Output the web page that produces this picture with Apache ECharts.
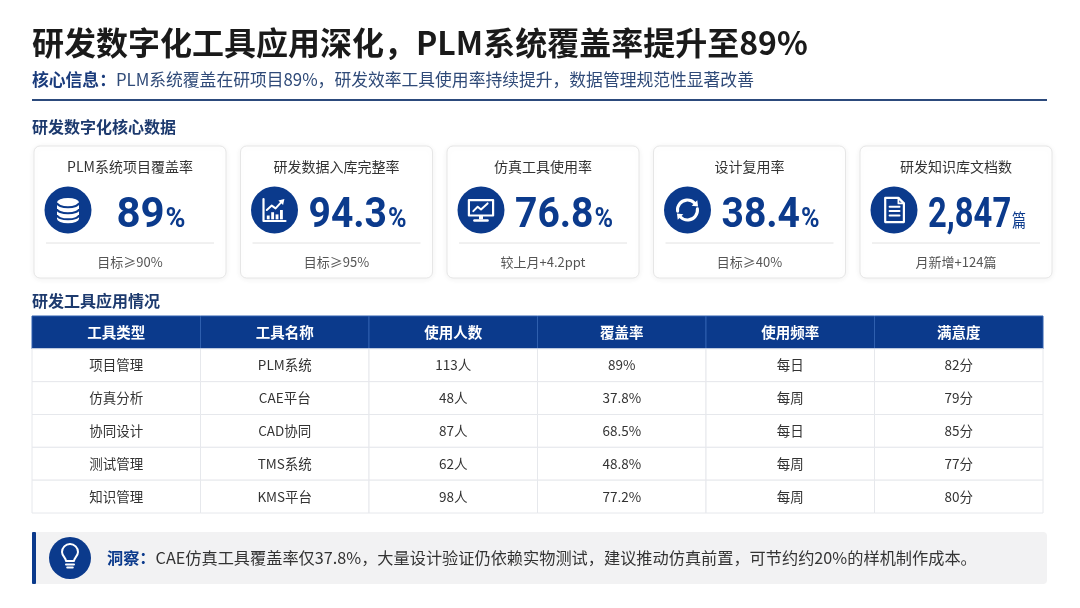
<!DOCTYPE html>
<html><head><meta charset="utf-8">
<script src="https://cdn.jsdelivr.net/npm/echarts@6/dist/echarts.min.js"></script>
<style>html,body{margin:0;padding:0;background:#fff}#c{width:1080px;height:608px}</style>
</head><body><div id="c"></div>
<script>
// ---------- data ----------
const pageTitle = '研发数字化工具应用深化，PLM系统覆盖率提升至89%';
const keyLabel = '核心信息：';
const keyText = 'PLM系统覆盖在研项目89%，研发效率工具使用率持续提升，数据管理规范性显著改善';
const section1 = '研发数字化核心数据';
const section2 = '研发工具应用情况';

const kpiTitles = ['PLM系统项目覆盖率', '研发数据入库完整率', '仿真工具使用率', '设计复用率', '研发知识库文档数'];
const kpiValues = [89, 94.3, 76.8, 38.4, 2847];
const kpiUnits = ['%', '%', '%', '%', '篇'];
const kpiNotes = ['目标≥90%', '目标≥95%', '较上月+4.2ppt', '目标≥40%', '月新增+124篇'];
const kpiIcons = ['database', 'chart', 'monitor', 'refresh', 'document'];

const tableHeaders = ['工具类型', '工具名称', '使用人数', '覆盖率', '使用频率', '满意度'];
const toolTypes = ['项目管理', '仿真分析', '协同设计', '测试管理', '知识管理'];
const toolNames = ['PLM系统', 'CAE平台', 'CAD协同', 'TMS系统', 'KMS平台'];
const userCounts = [113, 48, 87, 62, 98];
const coverageRates = [89, 37.8, 68.5, 48.8, 77.2];
const useFreq = ['每日', '每周', '每日', '每周', '每周'];
const satisfaction = [82, 79, 85, 77, 80];

const insightLabel = '洞察：';
const insightText = 'CAE仿真工具覆盖率仅37.8%，大量设计验证仍依赖实物测试，建议推动仿真前置，可节约约20%的样机制作成本。';

// ---------- styling ----------
const NAVY = '#0b3a8c';
const FONT = '"Noto Sans CJK SC", "Noto Sans", sans-serif';
const NUMFONT = 'Roboto, "Noto Sans", sans-serif';
const NUM_SIZE = 42, PCT_SIZE = 27, CJK_UNIT_SIZE = 18, NUM_FIT = 98;

const mctx = document.createElement('canvas').getContext('2d');
function textWidth(t, font) { mctx.font = font; return mctx.measureText(t).width; }

// table cells
const tableRows = toolTypes.map((t, i) => [t, toolNames[i], userCounts[i] + '人', coverageRates[i] + '%', useFreq[i], satisfaction[i] + '分']);
const cellText = [];
const cellData = [];
tableHeaders.forEach((h, c) => { cellData.push([c, 0]); cellText.push({ t: h, h: true }); });
tableRows.forEach((row, r) => row.forEach((v, c) => { cellData.push([c, r + 1]); cellText.push({ t: v, h: false }); }));

// icons in unit coords (about -12..12)
function iconShapes(kind) {
  const W = '#fff';
  const st = (d, w) => ({ type: 'path', shape: { pathData: d }, style: { fill: null, stroke: W, lineWidth: w, lineCap: 'round', lineJoin: 'round' } });
  const fl = (d) => ({ type: 'path', shape: { pathData: d }, style: { fill: W } });
  const nv = (d, w) => ({ type: 'path', shape: { pathData: d }, style: { fill: null, stroke: NAVY, lineWidth: w } });
  switch (kind) {
    case 'database': return [
      fl('M-10 -7 A10 4 0 0 1 10 -7 L10 8 A10 4 0 0 1 -10 8 Z'),
      nv('M-10 -6.5 A10 4 0 0 0 10 -6.5', 1.8),
      nv('M-10 -1 A10 4 0 0 0 10 -1', 1.8),
      nv('M-10 4.5 A10 4 0 0 0 10 4.5', 1.8)
    ];
    case 'chart': return [
      st('M-10 -10 L-10 10 L10 10', 2),
      fl('M-7 5 h2.6 v3.5 h-2.6 Z'),
      fl('M-3 2 h2.6 v6.5 h-2.6 Z'),
      fl('M1 4 h2.6 v4.5 h-2.6 Z'),
      fl('M5 0 h2.6 v8.5 h-2.6 Z'),
      st('M-7 0 L-2.5 -4 L1 -1.5 L7 -8', 1.8),
      fl('M9 -10 L3.5 -8.6 L7.8 -4.6 Z')
    ];
    case 'monitor': return [
      st('M-11 -9 L11 -9 L11 5 L-11 5 Z', 2),
      st('M-7 1 L-3 -3 L0 -0.5 L6 -6', 1.8),
      fl('M-1.8 5 h3.6 v3.5 h-3.6 Z'),
      st('M-6 9.5 L6 9.5', 2.2)
    ];
    case 'refresh': return [
      st('M-9 1 A9 9 0 0 1 6.36 -6.36', 2.8),
      fl('M8.9 -8.9 L3.8 -3.8 L9.6 -3.2 Z'),
      st('M9 -1 A9 9 0 0 1 -6.36 6.36', 2.8),
      fl('M-8.9 8.9 L-3.8 3.8 L-9.6 3.2 Z')
    ];
    case 'document': return [
      st('M-8 -11 L4 -11 L9 -6 L9 11 L-8 11 Z', 2),
      st('M4 -11 L4 -6 L9 -6', 1.6),
      st('M-4 -3 L5 -3 M-4 1 L5 1 M-4 5 L5 5', 1.8)
    ];
    case 'bulb': return [
      st('M-4 4 C-4 1 -8 -1 -8 -5 A8 8 0 1 1 8 -5 C8 -1 4 1 4 4 Z', 2),
      st('M-4 7.5 L4 7.5 M-2.8 10.5 L2.8 10.5', 2)
    ];
  }
  return [];
}

function renderCard(params, api) {
  const i = params.dataIndex;
  const top = api.coord([i, 1])[1];
  const bottom = api.coord([i, 0])[1];
  const cx = api.coord([i, 0.5])[0];
  const bw = api.size([1, 0])[0];
  const w = bw - 14.5;
  const left = cx - w / 2;
  const h = bottom - top;
  const valStr = kpiValues[i].toLocaleString('en-US');
  const unit = kpiUnits[i];
  const isPct = unit === '%';
  const uSize = isPct ? PCT_SIZE : CJK_UNIT_SIZE;
  const uFont = (isPct ? 'bold ' : '') + uSize + 'px ' + (isPct ? NUMFONT : FONT);
  const fullW = textWidth(valStr, 'bold ' + NUM_SIZE + 'px ' + NUMFONT) + textWidth(unit, uFont) + 1;
  const sx = Math.min(1, NUM_FIT / fullW);
  return {
    type: 'group',
    children: [
      { type: 'rect', shape: { x: left, y: top, width: w, height: h, r: 6 },
        style: { fill: '#fff', stroke: '#e6e6e6', lineWidth: 1, shadowBlur: 6, shadowColor: 'rgba(0,0,0,0.06)', shadowOffsetY: 1 } },
      { type: 'text', x: cx, y: top + 21, style: { text: kpiTitles[i], fill: '#333', font: '14px ' + FONT, align: 'center', verticalAlign: 'middle' } },
      { type: 'circle', shape: { cx: left + 34, cy: top + 64, r: 23.5 }, style: { fill: NAVY } },
      { type: 'group', x: left + 34, y: top + 64, scaleX: 1.1, scaleY: 1.1, children: iconShapes(kpiIcons[i]) },
      { type: 'text', x: left + 117, y: top + 70, scaleX: sx, scaleY: 1, originX: 0, originY: 0,
        style: {
          text: '{v|' + valStr + '}{u|' + unit + '}',
          align: 'center', verticalAlign: 'middle',
          rich: {
            v: { fontSize: NUM_SIZE, fontWeight: 'bold', fontFamily: NUMFONT, fill: NAVY, verticalAlign: 'bottom' },
            u: { fontSize: uSize, fontWeight: isPct ? 'bold' : 'normal', fontFamily: isPct ? NUMFONT : FONT, fill: NAVY, verticalAlign: 'bottom', padding: [0, 0, isPct ? 3 : 8, 1] }
          }
        } },
      { type: 'line', shape: { x1: left + 12, y1: top + 97, x2: left + w - 12, y2: top + 97 }, style: { stroke: '#e2e2e2', lineWidth: 1 } },
      { type: 'text', x: cx, y: top + 116, style: { text: kpiNotes[i], fill: '#555', font: '13px ' + FONT, align: 'center', verticalAlign: 'middle' } }
    ]
  };
}

function renderCell(params, api) {
  const idx = params.dataIndex;
  const c = api.value(0), r = api.value(1);
  const p = api.coord([c, r]);
  const s = api.size([1, 1]);
  const info = cellText[idx];
  const x = p[0] - s[0] / 2, y = p[1] - s[1] / 2;
  return {
    type: 'group',
    children: [
      { type: 'rect', shape: { x: x, y: y, width: s[0], height: s[1] },
        style: info.h ? { fill: NAVY, stroke: '#2f5fae', lineWidth: 1 } : { fill: '#fff', stroke: '#e6e8ec', lineWidth: 1 } },
      { type: 'text', x: p[0], y: p[1],
        style: { text: info.t, fill: info.h ? '#fff' : '#333', font: (info.h ? 'bold 14.5px ' : '13.5px ') + FONT, align: 'center', verticalAlign: 'middle' } }
    ]
  };
}

function renderInsight(params, api) {
  const p0 = api.coord([0, 1]);
  const p1 = api.coord([1, 0]);
  const x = p0[0], y = p0[1], w = p1[0] - p0[0], h = p1[1] - p0[1];
  const cy = y + h / 2;
  return {
    type: 'group',
    children: [
      { type: 'rect', shape: { x: x, y: y, width: w, height: h, r: [0, 4, 4, 0] }, style: { fill: '#f2f2f3' } },
      { type: 'rect', shape: { x: x, y: y, width: 4, height: h, r: 1 }, style: { fill: NAVY } },
      { type: 'circle', shape: { cx: x + 38, cy: cy, r: 21 }, style: { fill: NAVY } },
      { type: 'group', x: x + 38, y: cy - 1, children: iconShapes('bulb') },
      { type: 'text', x: x + 75, y: cy,
        style: { text: '{b|' + insightLabel + '}{t|' + insightText + '}', verticalAlign: 'middle',
          rich: { b: { fontSize: 16.2, fontWeight: 'bold', fill: NAVY, fontFamily: FONT },
                  t: { fontSize: 16.2, fill: '#333', fontFamily: FONT } } } }
    ]
  };
}

const hiddenAxis = { axisLine: { show: false }, axisTick: { show: false }, axisLabel: { show: false }, splitLine: { show: false } };

const chart = echarts.init(document.getElementById('c'), null, { renderer: 'canvas' });
chart.setOption({
  backgroundColor: '#fff',
  animation: false,
  grid: [
    { left: 26.75, top: 146, width: 1032.5, height: 132 },
    { left: 32, top: 316, width: 1011, height: 197 },
    { left: 32, top: 532, width: 1015, height: 52 }
  ],
  xAxis: [
    Object.assign({ type: 'category', gridIndex: 0, data: kpiTitles }, hiddenAxis),
    Object.assign({ type: 'category', gridIndex: 1, data: tableHeaders }, hiddenAxis),
    Object.assign({ type: 'value', gridIndex: 2, min: 0, max: 1 }, hiddenAxis)
  ],
  yAxis: [
    Object.assign({ type: 'value', gridIndex: 0, min: 0, max: 1 }, hiddenAxis),
    Object.assign({ type: 'category', gridIndex: 1, inverse: true, data: ['header'].concat(toolTypes) }, hiddenAxis),
    Object.assign({ type: 'value', gridIndex: 2, min: 0, max: 1 }, hiddenAxis)
  ],
  series: [
    { type: 'custom', xAxisIndex: 0, yAxisIndex: 0, renderItem: renderCard, data: kpiValues.map((v, i) => [i, 0.5]), silent: true },
    { type: 'custom', xAxisIndex: 1, yAxisIndex: 1, renderItem: renderCell, data: cellData, encode: { x: 0, y: 1 }, silent: true },
    { type: 'custom', xAxisIndex: 2, yAxisIndex: 2, renderItem: renderInsight, data: [[0.5, 0.5]], silent: true }
  ],
  graphic: [
    { type: 'text', x: 32, y: 43, style: { text: pageTitle, fill: '#1a1a1a', font: 'bold 32px ' + FONT, verticalAlign: 'middle' } },
    { type: 'text', x: 32, y: 80,
      style: { text: '{b|' + keyLabel + '}{t|' + keyText + '}', verticalAlign: 'middle',
        rich: { b: { fontSize: 16.8, fontWeight: 'bold', fill: '#1b3c7c', fontFamily: FONT },
                t: { fontSize: 16.8, fill: '#2f4a78', fontFamily: FONT } } } },
    { type: 'rect', shape: { x: 32, y: 99, width: 1015, height: 2 }, style: { fill: '#2c4a7c' } },
    { type: 'text', x: 32, y: 127, style: { text: section1, fill: '#1d3a6e', font: 'bold 16px ' + FONT, verticalAlign: 'middle' } },
    { type: 'text', x: 32, y: 301, style: { text: section2, fill: '#1d3a6e', font: 'bold 16px ' + FONT, verticalAlign: 'middle' } }
  ]
});
</script>
</body></html>
